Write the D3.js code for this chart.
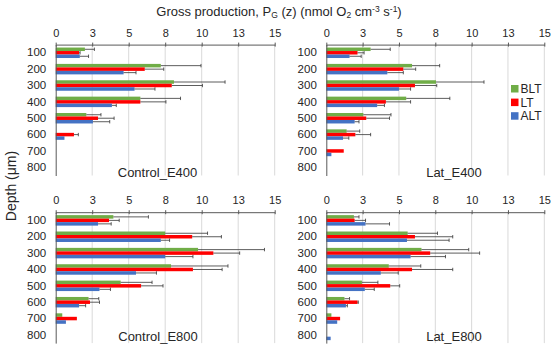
<!DOCTYPE html>
<html>
<head>
<meta charset="utf-8">
<script src="https://cdn.jsdelivr.net/npm/d3@7"></script>
<style>
  html, body { margin: 0; padding: 0; background: #fff; }
  svg { display: block; font-family: "Liberation Sans", Arial, sans-serif; }
</style>
</head>
<body>
<svg id="chart" width="553" height="348"></svg>
<script>
// Depth categories (µm) and series
const depths = [100, 200, 300, 400, 500, 600, 700, 800];
const seriesNames = ["BLT", "LT", "ALT"];
const seriesColors = ["#70AD47", "#FF0000", "#4472C4"];
const tickValues = [0, 2.5, 5, 7.5, 10, 12.5, 15];
const tickLabels = ["0", "3", "5", "8", "10", "13", "15"];
const panelNames = ["Control_E400", "Lat_E400", "Control_E800", "Lat_E800"];

// Gross production means (nmol O2 cm-3 s-1) and positive error (SD)
const controlE400BLT = [2.0, 7.2, 8.1, 5.8, 2.1, 0, 0, 0];
const controlE400BLTerr = [0.65, 2.75, 3.5, 2.75, 1.0, 0, 0, 0];
const controlE400LT = [1.6, 6.1, 7.95, 5.8, 2.9, 1.25, 0, 0];
const controlE400LTerr = [0.07, 1.3, 2.1, 1.75, 1.1, 0.3, 0, 0];
const controlE400ALT = [1.65, 4.65, 5.4, 3.85, 2.55, 0.6, 0, 0];
const controlE400ALTerr = [0.6, 0.85, 1.4, 0.3, 1.15, 0, 0, 0];

const latE400BLT = [3.05, 5.9, 7.55, 5.5, 2.55, 1.4, 0, 0];
const latE400BLTerr = [1.35, 1.9, 3.3, 3.0, 1.9, 0.9, 0, 0];
const latE400LT = [2.15, 5.3, 6.1, 4.1, 2.75, 2.0, 1.2, 0];
const latE400LTerr = [0.45, 0.85, 1.5, 1.7, 1.6, 1.05, 0, 0];
const latE400ALT = [1.6, 4.2, 5.0, 3.5, 1.95, 1.15, 0.35, 0];
const latE400ALTerr = [0.8, 1.1, 0.8, 0.5, 0.3, 0.4, 0, 0];

const controlE800BLT = [3.95, 7.5, 9.75, 7.9, 4.45, 2.25, 0.45, 0];
const controlE800BLTerr = [2.4, 2.9, 4.55, 3.9, 2.15, 0.7, 0, 0];
const controlE800LT = [3.65, 9.35, 10.8, 9.4, 5.85, 2.35, 1.45, 0];
const controlE800LTerr = [0.7, 2.0, 1.8, 2.0, 1.5, 0.65, 0, 0];
const controlE800ALT = [2.9, 7.2, 7.5, 5.5, 3.0, 1.6, 0.7, 0];
const controlE800ALTerr = [0.9, 0.6, 1.9, 1.4, 0.75, 0.45, 0, 0];

const latE800BLT = [1.9, 5.6, 6.55, 4.3, 2.45, 1.25, 0.35, 0];
const latE800BLTerr = [0.35, 2.05, 3.25, 2.2, 1.1, 0.35, 0, 0];
const latE800LT = [1.95, 6.1, 7.15, 5.9, 4.4, 2.15, 0.95, 0];
const latE800LTerr = [0.75, 2.6, 3.4, 2.8, 0.65, 0.05, 0, 0];
const latE800ALT = [2.7, 5.55, 5.8, 3.75, 2.65, 1.35, 0.75, 0.3];
const latE800ALTerr = [1.65, 2.9, 2.4, 1.2, 0.65, 0.1, 0, 0];

const panelValues = [
  [controlE400BLT, controlE400LT, controlE400ALT],
  [latE400BLT, latE400LT, latE400ALT],
  [controlE800BLT, controlE800LT, controlE800ALT],
  [latE800BLT, latE800LT, latE800ALT]
];
const panelErrors = [
  [controlE400BLTerr, controlE400LTerr, controlE400ALTerr],
  [latE400BLTerr, latE400LTerr, latE400ALTerr],
  [controlE800BLTerr, controlE800LTerr, controlE800ALTerr],
  [latE800BLTerr, latE800LTerr, latE800ALTerr]
];

// Panel layout: plot area boxes and label anchors
const layout = [
  { x0: 55.7, x1: 274.7, top: 44.6, labelX: 157.5, labelY: 177 },
  { x0: 326.3, x1: 544.3, top: 44.6, labelX: 454, labelY: 177 },
  { x0: 55.7, x1: 274.7, top: 212.2, labelX: 158, labelY: 341 },
  { x0: 326.3, x1: 544.3, top: 212.2, labelX: 454, labelY: 341 }
];
const plotH = 130.9;

const svg = d3.select("#chart");
const textColor = "#262626";

panelNames.forEach((name, pi) => {
  const L = layout[pi];
  const g = svg.append("g");
  const x = d3.scaleLinear().domain([0, 15]).range([L.x0, L.x1]);
  const y = d3.scaleBand().domain(depths).range([L.top, L.top + plotH])
    .paddingInner(0.36).paddingOuter(0.18);
  const ys = d3.scaleBand().domain(seriesNames).range([0, y.bandwidth()]);

  // vertical gridlines
  g.selectAll("line.grid").data(tickValues.slice(1)).join("line")
    .attr("x1", d => x(d)).attr("x2", d => x(d))
    .attr("y1", L.top).attr("y2", L.top + plotH)
    .attr("stroke", "#d9d9d9").attr("stroke-width", 1);

  // bars
  seriesNames.forEach((s, si) => {
    const vals = panelValues[pi][si];
    const errs = panelErrors[pi][si];
    g.selectAll("rect.s" + si).data(depths).join("rect")
      .attr("x", x(0))
      .attr("y", d => y(d) + ys(s))
      .attr("width", (d, i) => x(vals[i]) - x(0))
      .attr("height", ys.bandwidth())
      .attr("fill", seriesColors[si]);

    // positive error bars with end cap
    const eb = depths.map((d, i) => ({ d, v: vals[i], e: errs[i] })).filter(o => o.e > 0);
    g.selectAll("line.e" + si).data(eb).join("line")
      .attr("x1", o => x(o.v)).attr("x2", o => x(o.v + o.e))
      .attr("y1", o => y(o.d) + ys(s) + ys.bandwidth() / 2)
      .attr("y2", o => y(o.d) + ys(s) + ys.bandwidth() / 2)
      .attr("stroke", "#333").attr("stroke-width", 0.8);
    g.selectAll("line.c" + si).data(eb).join("line")
      .attr("x1", o => x(o.v + o.e)).attr("x2", o => x(o.v + o.e))
      .attr("y1", o => y(o.d) + ys(s) + ys.bandwidth() / 2 - 1.7)
      .attr("y2", o => y(o.d) + ys(s) + ys.bandwidth() / 2 + 1.7)
      .attr("stroke", "#333").attr("stroke-width", 0.8);
  });

  // top value axis
  const xAxis = d3.axisTop(x).tickValues(tickValues)
    .tickFormat((d, i) => tickLabels[i]).tickSizeInner(2).tickSizeOuter(0).tickPadding(6);
  const ax = g.append("g").attr("transform", `translate(0,${L.top})`).call(xAxis);
  ax.select(".domain").attr("stroke", "#595959");
  ax.selectAll(".tick line").attr("stroke", "#595959").attr("y1", 2);
  ax.selectAll(".tick text").attr("fill", textColor).style("font-size", "11px")
    .style("font-family", "'Liberation Sans', Arial, sans-serif");

  // depth category axis
  const yAxis = d3.axisLeft(y).tickSize(0).tickPadding(9.5);
  const ay = g.append("g").attr("transform", `translate(${L.x0},0)`).call(yAxis);
  ay.select(".domain").attr("stroke", "#595959");
  ay.selectAll(".tick text").attr("fill", textColor).style("font-size", "11.5px")
    .style("font-family", "'Liberation Sans', Arial, sans-serif");

  // panel label
  g.append("text").attr("x", L.labelX).attr("y", L.labelY)
    .attr("text-anchor", "middle").attr("fill", textColor)
    .style("font-size", "13px").text(name);
});

// overall axis title with sub/superscripts
const title = svg.append("text").attr("x", 279).attr("y", 15.5)
  .attr("text-anchor", "middle").attr("fill", textColor).style("font-size", "13px");
title.append("tspan").text("Gross production, P");
title.append("tspan").text("G").style("font-size", "8.5px").attr("dy", 2.5);
title.append("tspan").text(" (z) (nmol O").attr("dy", -2.5);
title.append("tspan").text("2").style("font-size", "8.5px").attr("dy", 2.5);
title.append("tspan").text(" cm").attr("dy", -2.5);
title.append("tspan").text("-3").style("font-size", "8.5px").attr("dy", -4);
title.append("tspan").text(" s").attr("dy", 4);
title.append("tspan").text("-1").style("font-size", "8.5px").attr("dy", -4);
title.append("tspan").text(")").attr("dy", 4);

// y title
svg.append("text").attr("transform", "translate(16,186) rotate(-90)")
  .attr("text-anchor", "middle").attr("fill", textColor).style("font-size", "14px")
  .text("Depth (μm)");

// legend
const leg = svg.append("g");
seriesNames.forEach((s, i) => {
  leg.append("rect").attr("x", 511).attr("y", 85 + i * 13.6)
    .attr("width", 7.5).attr("height", 7.5).attr("fill", seriesColors[i]);
  leg.append("text").attr("x", 520.5).attr("y", 93 + i * 13.6)
    .attr("fill", textColor).style("font-size", "12px").text(s);
});
</script>
</body>
</html>
